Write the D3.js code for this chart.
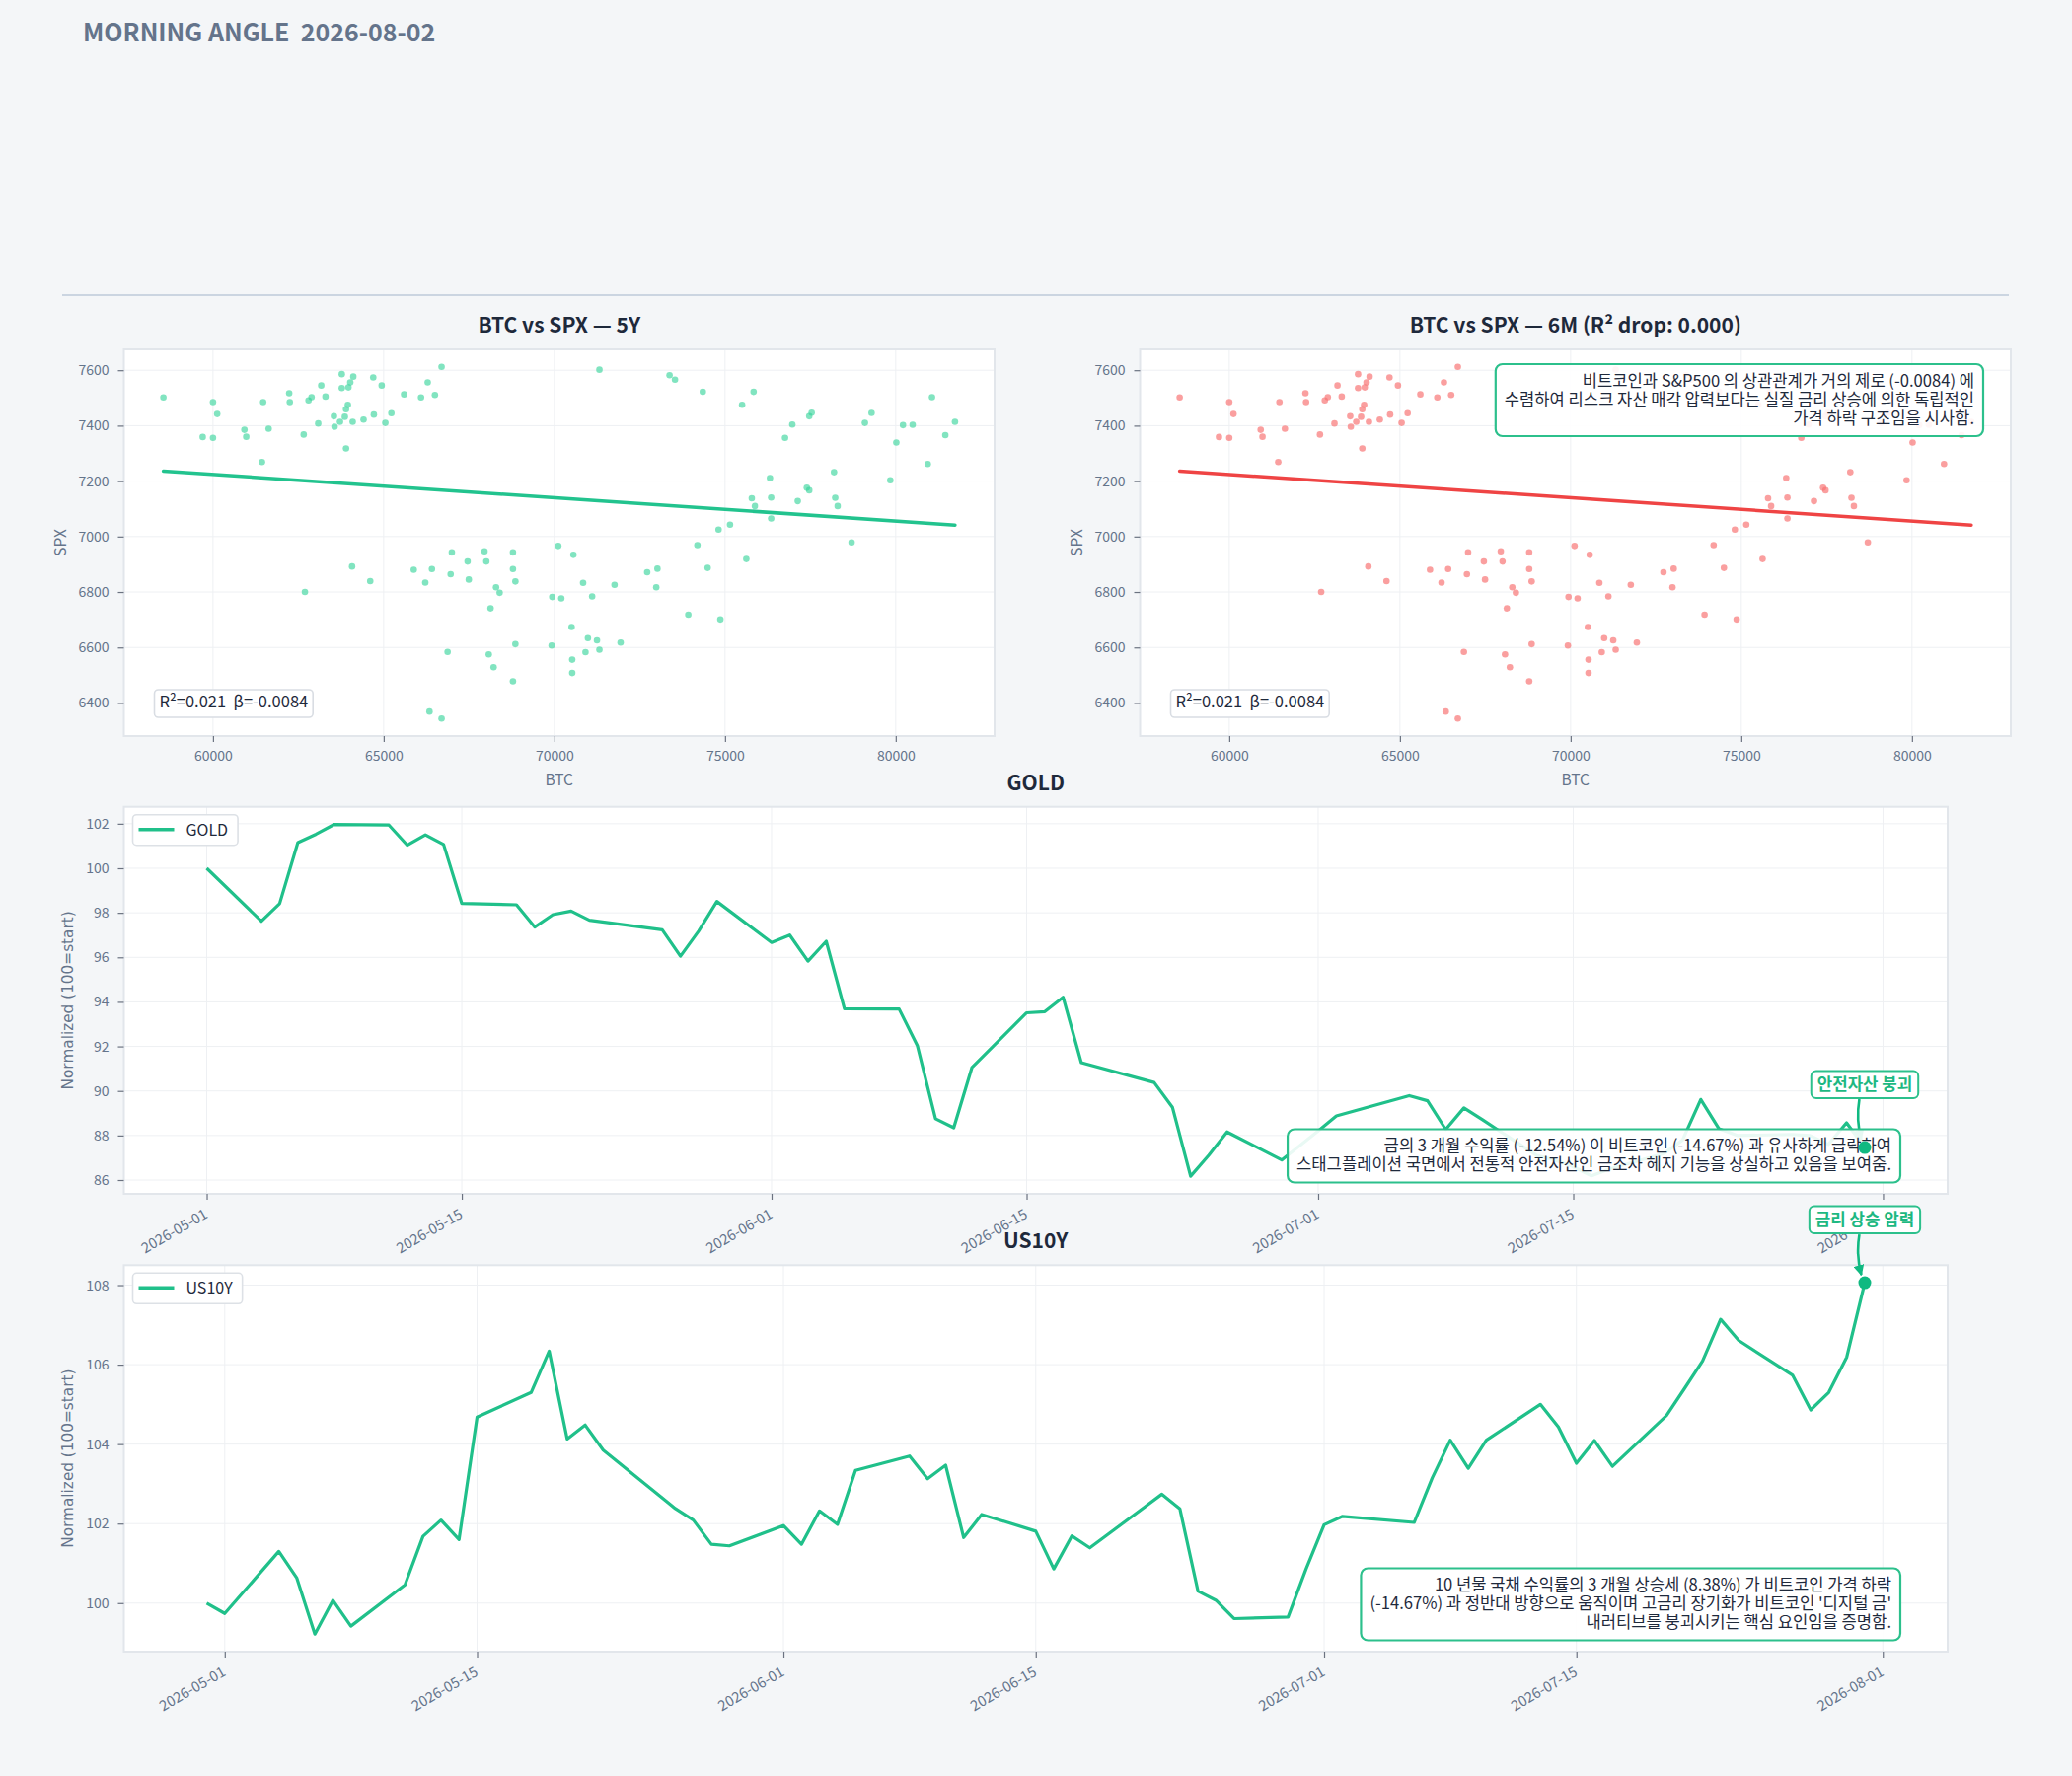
<!DOCTYPE html>
<html><head><meta charset="utf-8">
<script src="https://cdn.jsdelivr.net/npm/d3@7"></script>
<style>
html,body{margin:0;padding:0;background:#f4f6f8;}
svg{display:block;}
</style></head><body>
<svg id="chart" width="2100" height="1800"></svg>
<script>
// ---------------- DATA ----------------
const btc = [58547,59699,60000,60000,60124,60921,60974,61435,61470,61630,62232,62250,62657,62693,62799,62888,63082,63171,63295,63543,63561,63720,63773,63773,63862,63897,63897,63950,63968,64021,64074,64092,64110,64411,64606,64694,64712,64942,65049,65226,65598,65881,66094,66218,66289,66342,66413,66501,66696,66696,66873,66962,66997,67458,67493,67954,68007,68078,68131,68220,68291,68397,68787,68787,68787,68858,68858,69920,69938,70115,70204,70505,70523,70523,70558,70842,70912,70983,71107,71249,71320,71320,71763,71940,72719,72985,73020,73375,73534,73924,74190,74349,74491,74810,74863,75146,75500,75624,75784,75837,75873,76315,76351,76351,76758,76971,77130,77396,77467,77467,77538,78193,78228,78299,78707,79097,79292,79841,80018,80213,80496,80939,81063,81453,81736];
const spx = [7502,7359,7485,7356,7442,7385,7360,7269,7485,7389,7517,7485,7368,6800,7491,7503,7408,7545,7505,7434,7396,7414,7586,7536,7432,7459,7318,7475,7538,7556,6892,7414,7577,7422,6839,7574,7440,7545,7410,7445,7513,6880,7502,6834,7556,6369,6883,7511,7612,6344,6584,6864,6943,6910,6845,6947,6910,6575,6741,6529,6817,6797,6943,6883,6478,6838,6612,6607,6782,6966,6777,6674,6508,6556,6934,6833,6583,6634,6784,6626,6592,7602,6826,6618,6871,6817,6884,7582,7566,6718,6969,7522,6887,7025,6701,7043,7475,6919,7138,7522,7110,7211,7141,7065,7356,7404,7128,7176,7167,7434,7447,7232,7140,7110,6979,7410,7446,7203,7339,7402,7403,7262,7503,7366,7414];
const regSlope = -0.0084;
const regIntercept = 7728;
const statsText = "R²=0.021  β=-0.0084";

const goldDates = ["2026-05-01","2026-05-04","2026-05-05","2026-05-06","2026-05-07","2026-05-08","2026-05-11","2026-05-12","2026-05-13","2026-05-14","2026-05-15","2026-05-18","2026-05-19","2026-05-20","2026-05-21","2026-05-22","2026-05-26","2026-05-27","2026-05-28","2026-05-29","2026-06-01","2026-06-02","2026-06-03","2026-06-04","2026-06-05","2026-06-08","2026-06-09","2026-06-10","2026-06-11","2026-06-12","2026-06-15","2026-06-16","2026-06-17","2026-06-18","2026-06-22","2026-06-23","2026-06-24","2026-06-25","2026-06-26","2026-06-29","2026-06-30","2026-07-01","2026-07-02","2026-07-06","2026-07-07","2026-07-08","2026-07-09","2026-07-10","2026-07-13","2026-07-14","2026-07-15","2026-07-16","2026-07-17","2026-07-20","2026-07-21","2026-07-22","2026-07-23","2026-07-24","2026-07-27","2026-07-28","2026-07-29","2026-07-30","2026-07-31"];
const goldValues = [100,97.62,98.41,101.15,101.53,101.97,101.94,101.04,101.50,101.07,98.42,98.36,97.36,97.92,98.08,97.67,97.24,96.05,97.18,98.51,
  96.67,97.00,95.83,96.72,93.69,93.68,92.04,88.75,88.35,91.06,93.51,93.56,94.21,91.27,90.38,89.27,86.17,87.12,88.16,86.90,87.55,
  88.20,88.88,89.79,89.56,88.27,89.24,88.72,87.10,86.90,86.60,86.19,86.50,87.20,87.80,89.62,88.30,88.00,88.05,88.00,87.60,88.57,87.46];

const us10yDates = ["2026-04-30","2026-05-01","2026-05-04","2026-05-05","2026-05-06","2026-05-07","2026-05-08","2026-05-11","2026-05-12","2026-05-13","2026-05-14","2026-05-15","2026-05-18","2026-05-19","2026-05-20","2026-05-21","2026-05-22","2026-05-26","2026-05-27","2026-05-28","2026-05-29","2026-06-01","2026-06-02","2026-06-03","2026-06-04","2026-06-05","2026-06-08","2026-06-09","2026-06-10","2026-06-11","2026-06-12","2026-06-15","2026-06-16","2026-06-17","2026-06-18","2026-06-22","2026-06-23","2026-06-24","2026-06-25","2026-06-26","2026-06-29","2026-06-30","2026-07-01","2026-07-02","2026-07-06","2026-07-07","2026-07-08","2026-07-09","2026-07-10","2026-07-13","2026-07-14","2026-07-15","2026-07-16","2026-07-17","2026-07-20","2026-07-21","2026-07-22","2026-07-23","2026-07-24","2026-07-27","2026-07-28","2026-07-29","2026-07-30","2026-07-31"];
const us10yValues = [100,99.74,101.30,100.63,99.22,100.07,99.42,100.46,101.68,102.09,101.60,104.68,105.30,106.34,104.13,104.48,103.85,102.38,102.09,101.48,101.44,
  101.95,101.48,102.32,101.98,103.34,103.70,103.13,103.47,101.65,102.23,101.81,100.86,101.69,101.39,102.74,102.37,100.30,100.07,99.61,99.65,100.86,
  101.97,102.18,102.03,103.15,104.10,103.39,104.10,105.00,104.43,103.52,104.09,103.44,104.72,105.40,106.09,107.14,106.61,105.73,104.86,105.30,106.19,108.06];

const scatterXTicks = [60000,65000,70000,75000,80000];
const scatterYTicks = [6400,6600,6800,7000,7200,7400,7600];
const goldYTicks = [86,88,90,92,94,96,98,100,102];
const us10yYTicks = [100,102,104,106,108];
const dateTicks = ["2026-05-01","2026-05-15","2026-06-01","2026-06-15","2026-07-01","2026-07-15","2026-08-01"];

const headerText = "MORNING ANGLE  2026-08-02";
const scatterTitles = ["BTC vs SPX — 5Y","BTC vs SPX — 6M (R² drop: 0.000)"];
const scatterNote = ["비트코인과 S&P500 의 상관관계가 거의 제로 (-0.0084) 에","수렴하여 리스크 자산 매각 압력보다는 실질 금리 상승에 의한 독립적인","가격 하락 구조임을 시사함."];
const goldNote = ["금의 3 개월 수익률 (-12.54%) 이 비트코인 (-14.67%) 과 유사하게 급락하여","스태그플레이션 국면에서 전통적 안전자산인 금조차 헤지 기능을 상실하고 있음을 보여줌."];
const us10yNote = ["10 년물 국채 수익률의 3 개월 상승세 (8.38%) 가 비트코인 가격 하락","(-14.67%) 과 정반대 방향으로 움직이며 고금리 장기화가 비트코인 '디지털 금'","내러티브를 붕괴시키는 핵심 요인임을 증명함."];
const goldLabel = "안전자산 붕괴";
const us10yLabel = "금리 상승 압력";

// ---------------- STYLE / LAYOUT ----------------
const FONT = "'Noto Sans CJK KR','Noto Sans',sans-serif";
const TICK = "#64748b";
const DARK = "#1e293b";
const GREEN = "#20c08a";
const MARK = "#10b981";
const parse = d3.utcParse("%Y-%m-%d");
const pad = ([a,b]) => [a-(b-a)*0.05, b+(b-a)*0.05];

const svg = d3.select("#chart");
svg.append("rect").attr("width",2100).attr("height",1800).attr("fill","#f4f6f8");

const defs = svg.append("defs");
defs.append("marker").attr("id","arrow").attr("viewBox","0 0 10 10").attr("refX",9).attr("refY",5)
  .attr("markerWidth",11).attr("markerHeight",11).attr("markerUnits","userSpaceOnUse").attr("orient","auto")
  .append("path").attr("d","M0,0 L10,5 L0,10 z").attr("fill",MARK);

svg.append("text").attr("x",84).attr("y",42).text(headerText)
  .attr("font-family",FONT).attr("font-weight",700).attr("font-size",25).attr("fill","#64748b")
  .style("white-space","pre");
svg.append("line").attr("x1",63).attr("x2",2036).attr("y1",299).attr("y2",299)
  .attr("stroke","#cbd5e1").attr("stroke-width",2);

function styleAxis(g){
  g.select(".domain").remove();
  g.selectAll(".tick line").attr("stroke","#6b7280").attr("stroke-width",1.2);
  g.selectAll(".tick text").attr("fill",TICK).attr("font-family",FONT).attr("font-size",14);
}

function panelBase(p){
  svg.append("rect").attr("x",p.x0).attr("y",p.y0).attr("width",p.x1-p.x0).attr("height",p.y1-p.y0).attr("fill","#ffffff");
}
function panelBorder(p){
  svg.append("rect").attr("x",p.x0).attr("y",p.y0).attr("width",p.x1-p.x0).attr("height",p.y1-p.y0)
    .attr("fill","none").attr("stroke","#e2e6eb").attr("stroke-width",2);
}
function grid(p,x,y,xt,yt){
  const g = svg.append("g");
  g.selectAll(".gx").data(xt).join("line").attr("x1",d=>x(d)).attr("x2",d=>x(d)).attr("y1",p.y0).attr("y2",p.y1)
    .attr("stroke","#eef0f3").attr("stroke-width",1);
  g.selectAll(".gy").data(yt).join("line").attr("y1",d=>y(d)).attr("y2",d=>y(d)).attr("x1",p.x0).attr("x2",p.x1)
    .attr("stroke","#eef0f3").attr("stroke-width",1);
}
function noteBox(right, top, bottom, lines){
  const g = svg.append("g");
  const rect = g.append("rect");
  const texts = lines.map((t,i)=> g.append("text").text(t).attr("text-anchor","end")
    .attr("font-family",FONT).attr("font-size",16.6).attr("fill",DARK));
  const h = lines.length*19 + 16;
  const y0 = top!=null ? top : bottom - h;
  texts.forEach((t,i)=> t.attr("x",right-9).attr("y",y0+22.5+i*19));
  const w = d3.max(texts, t=>t.node().getComputedTextLength()) + 18;
  rect.attr("x",right-w).attr("y",y0).attr("width",w).attr("height",h).attr("rx",7)
    .attr("fill","#ffffff").attr("fill-opacity",0.9).attr("stroke","#2cc08c").attr("stroke-width",2.2);
}
function labelBox(cx, cy, text){
  const g = svg.append("g");
  const rect = g.append("rect");
  const t = g.append("text").text(text).attr("x",cx).attr("y",cy+6).attr("text-anchor","middle")
    .attr("font-family",FONT).attr("font-weight",700).attr("font-size",16.8).attr("fill","#1db882");
  const w = t.node().getComputedTextLength()+12;
  rect.attr("x",cx-w/2).attr("y",cy-13.5).attr("width",w).attr("height",27.5).attr("rx",5)
    .attr("fill","#ffffff").attr("stroke","#2cc08c").attr("stroke-width",2);
}

// ---------------- SCATTERS ----------------
function drawScatter(p, title, dotColor, dotOpacity, lineColor, note){
  const x = d3.scaleLinear().domain(pad(d3.extent(btc))).range([p.x0,p.x1]);
  const y = d3.scaleLinear().domain(pad(d3.extent(spx))).range([p.y1,p.y0]);
  panelBase(p);
  grid(p,x,y,scatterXTicks,scatterYTicks);
  svg.append("g").selectAll("circle").data(btc.map((b,i)=>[b,spx[i]])).join("circle")
    .attr("cx",d=>x(d[0])).attr("cy",d=>y(d[1])).attr("r",3.3)
    .attr("fill",dotColor).attr("fill-opacity",dotOpacity);
  const [xmin,xmax] = d3.extent(btc);
  svg.append("line").attr("x1",x(xmin)).attr("x2",x(xmax))
    .attr("y1",y(regIntercept+regSlope*xmin)).attr("y2",y(regIntercept+regSlope*xmax))
    .attr("stroke",lineColor).attr("stroke-width",3.5).attr("stroke-linecap","round");
  panelBorder(p);
  const ax = svg.append("g").attr("transform",`translate(0,${p.y1})`)
    .call(d3.axisBottom(x).tickValues(scatterXTicks).tickSize(6).tickPadding(9).tickFormat(d3.format("d")));
  styleAxis(ax);
  const ay = svg.append("g").attr("transform",`translate(${p.x0},0)`)
    .call(d3.axisLeft(y).tickValues(scatterYTicks).tickSize(6).tickPadding(9).tickFormat(d3.format("d")));
  styleAxis(ay);
  svg.append("text").attr("x",(p.x0+p.x1)/2).attr("y",p.y1+50).attr("text-anchor","middle").text("BTC")
    .attr("font-family",FONT).attr("font-size",15.5).attr("fill",TICK);
  svg.append("text").attr("transform",`translate(${p.x0-59},${(p.y0+p.y1)/2}) rotate(-90)`).attr("text-anchor","middle").text("SPX")
    .attr("font-family",FONT).attr("font-size",15.5).attr("fill",TICK);
  svg.append("text").attr("x",(p.x0+p.x1)/2).attr("y",p.y0-17).attr("text-anchor","middle").text(title)
    .attr("font-family",FONT).attr("font-weight",700).attr("font-size",21).attr("fill",DARK);
  // stats box
  const sg = svg.append("g");
  const sr = sg.append("rect");
  const st = sg.append("text").attr("x",p.x0+36).attr("y",p.y1-29).text(statsText).style("white-space","pre")
    .attr("font-family",FONT).attr("font-size",16.5).attr("fill",DARK);
  const sw = st.node().getComputedTextLength();
  sr.attr("x",p.x0+31).attr("y",p.y1-47).attr("width",sw+10).attr("height",28).attr("rx",4)
    .attr("fill","#ffffff").attr("stroke","#d9dde3").attr("stroke-width",1.6);
  if(note) noteBox(p.x1-28, p.y0+15, null, note);
}
drawScatter({x0:125.5,x1:1008,y0:354,y1:746}, scatterTitles[0], "#34d399", 0.62, "#22c38e", null);
drawScatter({x0:1155.5,x1:2038,y0:354,y1:746}, scatterTitles[1], "#f87171", 0.68, "#ef4444", scatterNote);

// ---------------- LINE PANELS ----------------
function drawLine(p, name, dates, values, yTicks, note, label){
  const data = dates.map((d,i)=>({date:parse(d), v:values[i]}));
  const ext = d3.extent(data,d=>d.date).map(d=>+d);
  const x = d3.scaleUtc().domain(pad(ext)).range([p.x0,p.x1]);
  const y = d3.scaleLinear().domain(pad(d3.extent(values))).range([p.y1,p.y0]);
  const tickDates = dateTicks.map(parse);
  panelBase(p);
  grid(p,x,y,tickDates,yTicks);
  svg.append("path").datum(data).attr("d",d3.line().x(d=>x(d.date)).y(d=>y(d.v)))
    .attr("fill","none").attr("stroke",GREEN).attr("stroke-width",3.2).attr("stroke-linejoin","round");
  panelBorder(p);
  const ax = svg.append("g").attr("transform",`translate(0,${p.y1})`)
    .call(d3.axisBottom(x).tickValues(tickDates).tickSize(6).tickFormat(d3.utcFormat("%Y-%m-%d")));
  styleAxis(ax);
  ax.selectAll(".tick text").attr("x",0).attr("y",0).attr("dy","0.75em")
    .attr("transform","translate(-4,14) rotate(-30)").style("text-anchor","end").attr("font-size",14.5);
  const ay = svg.append("g").attr("transform",`translate(${p.x0},0)`)
    .call(d3.axisLeft(y).tickValues(yTicks).tickSize(6).tickPadding(9).tickFormat(d3.format("d")));
  styleAxis(ay);
  svg.append("text").attr("transform",`translate(${p.x0-52},${(p.y0+p.y1)/2}) rotate(-90)`).attr("text-anchor","middle")
    .text("Normalized (100=start)").attr("font-family","'DejaVu Sans',sans-serif").attr("font-size",15.3).attr("fill",TICK);
  svg.append("text").attr("x",(p.x0+p.x1)/2).attr("y",p.y0-17).attr("text-anchor","middle").text(name)
    .attr("font-family",FONT).attr("font-weight",700).attr("font-size",21).attr("fill",DARK);
  // legend
  const lg = svg.append("g");
  const lr = lg.append("rect");
  lg.append("line").attr("x1",p.x0+15).attr("x2",p.x0+51).attr("y1",p.y0+23).attr("y2",p.y0+23)
    .attr("stroke",GREEN).attr("stroke-width",3.5);
  const lt = lg.append("text").attr("x",p.x0+63).attr("y",p.y0+29).text(name)
    .attr("font-family",FONT).attr("font-size",16).attr("fill",DARK);
  lr.attr("x",p.x0+9).attr("y",p.y0+8).attr("width",63+lt.node().getComputedTextLength()-9+10).attr("height",31).attr("rx",4)
    .attr("fill","#ffffff").attr("stroke","#dde1e6").attr("stroke-width",1.6);
  // annotation
  const last = data[data.length-1];
  const px = x(last.date), py = y(last.v);
  const ly = py - 64;
  svg.append("path").attr("d",`M${px-5.5},${ly+15} Q${px-9},${(ly+py)/2+4} ${px-3.5},${py-8}`)
    .attr("fill","none").attr("stroke",MARK).attr("stroke-width",2.6).attr("marker-end","url(#arrow)");
  noteBox(p.x1-48, null, p.y1-11.5, note);
  svg.append("circle").attr("cx",px).attr("cy",py).attr("r",6.5).attr("fill",MARK);
  labelBox(px, ly, label);
}
drawLine({x0:125.5,x1:1974,y0:817.7,y1:1210}, "GOLD", goldDates, goldValues, goldYTicks, goldNote, goldLabel);
drawLine({x0:125.5,x1:1974,y0:1282.3,y1:1674}, "US10Y", us10yDates, us10yValues, us10yYTicks, us10yNote, us10yLabel);
</script>
</body></html>
